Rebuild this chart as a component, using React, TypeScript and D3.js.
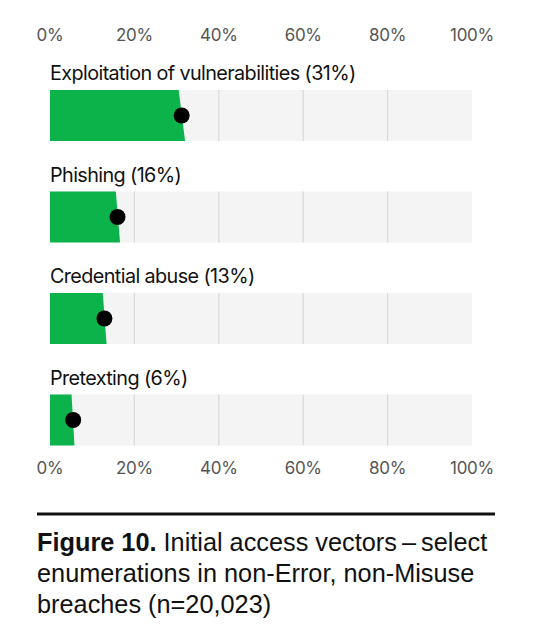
import React from 'react';
import * as d3 from 'd3';

const categories = ['Exploitation of vulnerabilities', 'Phishing', 'Credential abuse', 'Pretexting'];
const labelPct = [31, 16, 13, 6];
const pointValues = [31.2, 16.0, 12.9, 5.5];
const lowValues = [30.5, 15.6, 12.5, 5.1];
const highValues = [32.0, 16.6, 13.4, 5.8];
const tickValues = [0, 20, 40, 60, 80, 100];
const captionBold = 'Figure 10.';
const captionLines = [' Initial access vectors\u2009\u2013\u2009select', 'enumerations in non-Error, non-Misuse', 'breaches (n=20,023)'];

const W = 536;
const H = 632;
const GREEN = '#0cb34b';

export default function App() {
  const x = d3.scaleLinear().domain([0, 100]).range([50, 472]);
  const band = d3.scaleBand<number>().domain(d3.range(categories.length)).range([64, 470]).paddingInner(0).paddingOuter(0);
  const barOffset = 26;
  const barH = 51;
  const font = 'Inter, "Noto Sans", sans-serif';

  return (
    <svg width={W} height={H} style={{ position: 'absolute', left: 0, top: 0, background: '#fff' }}>
      {tickValues.map((t) => (
        <text key={'tt' + t} x={x(t)} y={41} textAnchor="middle" fontFamily={font} fontSize={17} fill="#555" letterSpacing={-0.3}>
          {t}%
        </text>
      ))}
      {categories.map((c, i) => {
        const top = band(i)! + barOffset;
        const bottom = top + barH;
        const area = d3.line<[number, number]>()([
          [x(0), top],
          [x(lowValues[i]), top],
          [x(highValues[i]), bottom],
          [x(0), bottom],
        ]) + 'Z';
        return (
          <g key={c}>
            <text x={x(0)} y={top - 10} fontFamily={font} fontSize={19.8} fill="#111" letterSpacing={-0.6}>
              {c} ({labelPct[i]}%)
            </text>
            <rect x={x(0)} y={top} width={x(100) - x(0)} height={barH} fill="#f4f4f4" />
            {tickValues.slice(1, -1).map((t) => (
              <line key={t} x1={x(t)} x2={x(t)} y1={top} y2={bottom} stroke="#d9d9d9" strokeWidth={1.2} />
            ))}
            <path d={area} fill={GREEN} />
            <circle cx={x(pointValues[i])} cy={top + barH / 2} r={8} fill="#000" />
          </g>
        );
      })}
      {tickValues.map((t) => (
        <text key={'bt' + t} x={x(t)} y={474} textAnchor="middle" fontFamily={font} fontSize={17} fill="#555" letterSpacing={-0.3}>
          {t}%
        </text>
      ))}
      <line x1={37} x2={495} y1={514} y2={514} stroke="#111" strokeWidth={3} />
      <text x={37} y={551} fontFamily='"Liberation Sans", Arial, sans-serif' fontSize={25.3} fill="#111">
        <tspan fontWeight="bold">{captionBold}</tspan>
        <tspan>{captionLines[0]}</tspan>
        <tspan x={37} y={582}>{captionLines[1]}</tspan>
        <tspan x={37} y={613}>{captionLines[2]}</tspan>
      </text>
    </svg>
  );
}
